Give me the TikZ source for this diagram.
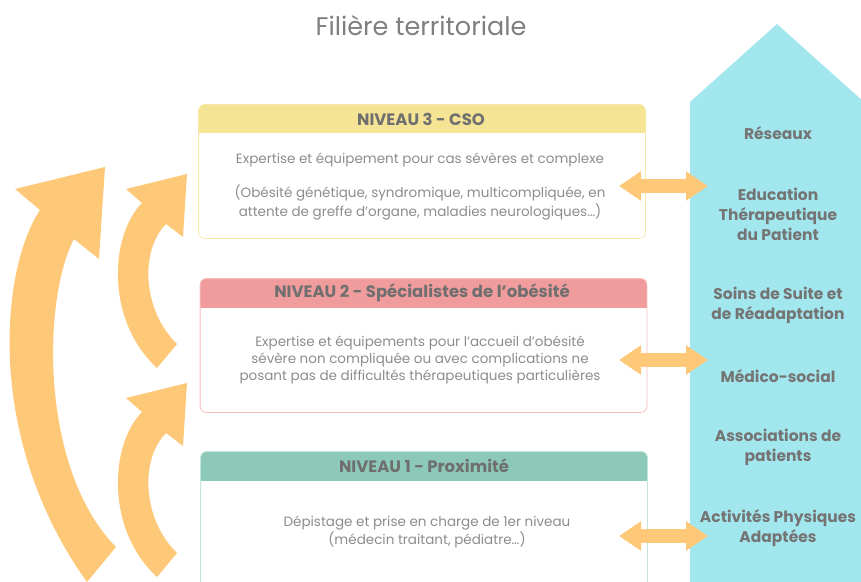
\documentclass[tikz,border=0pt]{standalone}
\usepackage{fontspec}
\setmainfont{Poppins}
\usetikzlibrary{arrows.meta,calc}
\definecolor{titlegray}{HTML}{7F7F7F}
\definecolor{hdrgray}{HTML}{6F6F6F}
\definecolor{bodygray}{HTML}{8C8C8C}
\definecolor{colgray}{HTML}{747474}
\definecolor{yel}{HTML}{F6E495}
\definecolor{yelline}{HTML}{F8E8A8}
\definecolor{pnk}{HTML}{F19C9C}
\definecolor{pnkline}{HTML}{F5BDBD}
\definecolor{tea}{HTML}{8CC9B8}
\definecolor{tealine}{HTML}{C2E4DB}
\definecolor{cyanc}{HTML}{A3E7EE}
\definecolor{orng}{HTML}{FDC979}
\tikzset{
  levelbox/.style={rectangle, rounded corners=6pt, line width=0.8pt, minimum width=446pt, inner sep=0pt},
  hdr/.style={font=\fontsize{16.5}{18}\selectfont\bfseries, text=hdrgray, inner sep=0pt},
  bodytxt/.style={font=\fontsize{13.5}{17}\selectfont, text=bodygray, align=center, inner sep=0pt},
  coltxt/.style={font=\fontsize{15.5}{20}\selectfont\bfseries, text=colgray, align=center, inner sep=0pt},
  dblarrow/.style={draw=orng, line width=14pt, {Triangle[length=22pt,width=28pt]}-{Triangle[length=22pt,width=28pt]}},
  curved/.style={fill=orng},
}
\begin{document}
\begin{tikzpicture}[x=1pt,y=-1pt]
\useasboundingbox (0,0) rectangle (861,581);
\clip (0,0) rectangle (861,581);

% title
\node[font=\fontsize{25.5}{28}\selectfont, text=titlegray, inner sep=0pt] (title) at (421,26) {Filière territoriale};

% right column
\fill[cyanc] (690,590) -- (690,102) -- (777,24) -- (864,102) -- (864,590) -- cycle;
\node[coltxt] (r1) at (778,133) {Réseaux};
\node[coltxt] (r2) at (778,214) {Education\\Thérapeutique\\du Patient};
\node[coltxt] (r3) at (778,305.5) {Soins de Suite et\\de Réadaptation};
\node[coltxt] (r4) at (778,376) {Médico-social};
\node[coltxt] (r5) at (778,447) {Associations de\\patients};
\node[coltxt] (r6) at (778,528) {Activités Physiques\\Adaptées};

% level 3
\node[levelbox, minimum height=133pt] (n3) at (422,171.5) {};
\begin{scope}
\clip (n3.north west) rectangle ($(n3.north east)+(0,28)$);
\fill[yel, rounded corners=6pt] (n3.north west) rectangle (n3.south east);
\end{scope}
\draw[yelline, line width=0.8pt, rounded corners=6pt] (n3.north west) rectangle (n3.south east);
\node[hdr] (h3) at (421,119) {NIVEAU 3 - CSO};
\node[bodytxt] (b3a) at (420,160) {Expertise et équipement pour cas sévères et complexe};
\node[bodytxt, font=\fontsize{13.5}{19}\selectfont] (b3b) at (420,202.5) {(Obésité génétique, syndromique, multicompliquée, en\\attente de greffe d’organe, maladies neurologiques…)};

% level 2
\node[levelbox, minimum height=133pt] (n2) at (423.5,345.5) {};
\begin{scope}
\clip (n2.north west) rectangle ($(n2.north east)+(0,29)$);
\fill[pnk, rounded corners=6pt] (n2.north west) rectangle (n2.south east);
\end{scope}
\draw[pnkline, line width=0.8pt, rounded corners=6pt] (n2.north west) rectangle (n2.south east);
\node[hdr] (h2) at (422,293) {NIVEAU 2 - Spécialistes de l’obésité};
\node[bodytxt] (b2) at (420,360) {Expertise et équipements pour l’accueil d’obésité\\sévère non compliquée ou avec complications ne\\posant pas de difficultés thérapeutiques particulières};

% level 1
\node[levelbox, minimum height=150pt] (n1) at (424,527) {};
\begin{scope}
\clip (n1.north west) rectangle ($(n1.north east)+(0,29)$);
\fill[tea, rounded corners=6pt] (n1.north west) rectangle (n1.south east);
\end{scope}
\draw[tealine, line width=0.8pt, rounded corners=6pt] (n1.north west) rectangle (n1.south east);
\node[hdr] (h1) at (424,466) {NIVEAU 1 - Proximité};
\node[bodytxt, font=\fontsize{13.5}{18}\selectfont] (b1) at (427,532) {Dépistage et prise en charge de 1er niveau\\(médecin traitant, pédiatre…)};

% double arrows
\coordinate (l3) at (619,186); \coordinate (e3) at (708,186);
\coordinate (l2) at (619,360); \coordinate (e2) at (708,360);
\coordinate (l1) at (619,536); \coordinate (e1) at (708,536);
\draw[dblarrow] (l3) -- (e3);
\draw[dblarrow] (l2) -- (e2);
\draw[dblarrow] (l1) -- (e1);

% big curved arrow
\fill[curved] (87,582) .. controls (-15,440) and (0,270) .. (40,210)
  -- (15,189) -- (105,167) -- (99,259) -- (74,239)
  .. controls (42,300) and (40,470) .. (116,547) -- cycle;
% upper small curved arrow
\fill[curved] (157,368) .. controls (105,320) and (110,235) .. (142,203)
  -- (126,189) -- (187,174) -- (183,237) -- (166,224)
  .. controls (140,250) and (142,310) .. (177,344) -- cycle;
% lower small curved arrow
\begin{scope}[yshift=-209pt]
\fill[curved] (157,368) .. controls (105,320) and (110,235) .. (142,203)
  -- (126,189) -- (187,174) -- (183,237) -- (166,224)
  .. controls (140,250) and (142,310) .. (177,344) -- cycle;
\end{scope}
\end{tikzpicture}
\end{document}
